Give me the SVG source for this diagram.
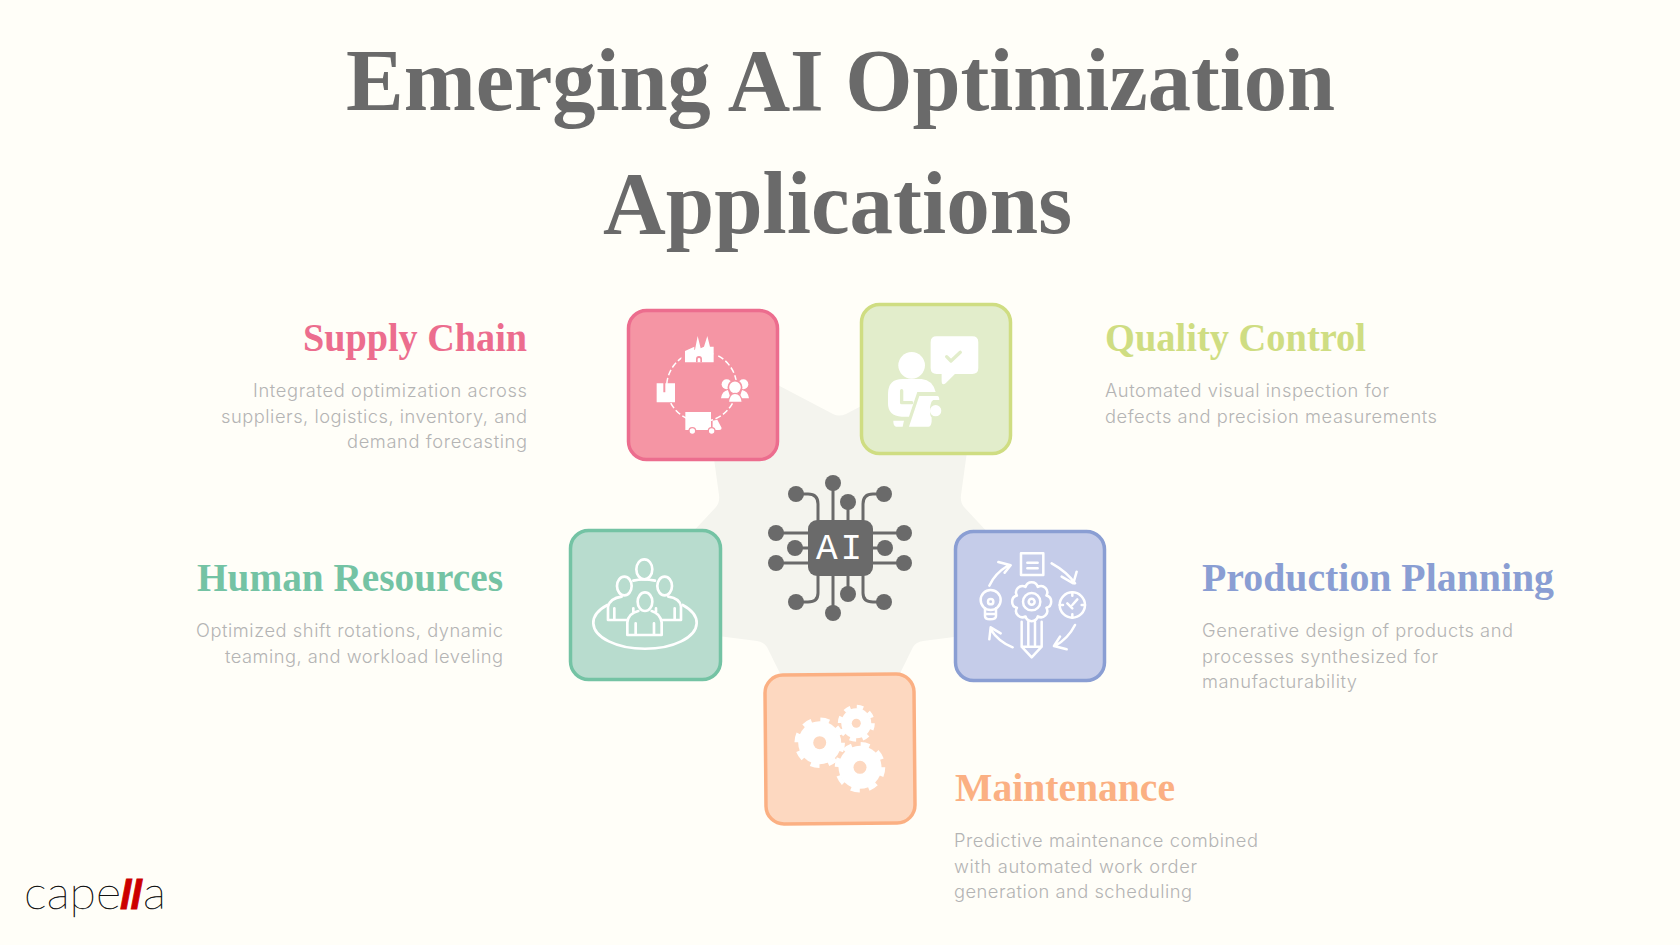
<svg xmlns="http://www.w3.org/2000/svg" width="1680" height="945" viewBox="0 0 1680 945">
<style>
.title{font-family:"Liberation Serif",serif;font-weight:700;font-size:88px;fill:#6a6a6a}
.h{font-family:"Liberation Serif",serif;font-weight:700;font-size:40px}
.b{font-family:Inter,"Liberation Sans",sans-serif;font-size:18.3px;font-weight:300;fill:#b4b4b4}
.e{text-anchor:end}
.box{stroke-width:3.5}
.ln{fill:none;stroke:#fff;stroke-linecap:round;stroke-linejoin:round}
.w{fill:#fff}
.tr{fill:none;stroke:#6a6a6a;stroke-width:3}
.d{fill:#6a6a6a}
.logo{font-family:Lato,sans-serif;font-weight:100;font-size:46px;fill:#111;stroke:#111;stroke-width:.45}
</style>
<rect width="1680" height="945" fill="#fffef8"/>
<g id="title">
<text class="title" x="346" y="110" textLength="989" lengthAdjust="spacingAndGlyphs">Emerging AI Optimization</text>
<text class="title" x="603" y="233" textLength="469" lengthAdjust="spacingAndGlyphs">Applications</text>
</g>
<path id="star" fill="#f4f4ee" d="M698 343L833 414Q839 417 846 414L982 343L961 495Q960 502 964 507L1071 622L923 641Q916 642 913 647L840 795L767 647Q764 642 757 641L609 622L716 507Q720 502 719 495Z"/>

<g id="ai-core">
<path class="tr" d="M833 483V520M848 502V520M796 494H808Q818 494 818 504V520M884 494H873Q863 494 863 504V520M776 533H808M795 548H808M776 563H808M904 533H873M885 548H873M904 563H873M818 576V593Q818 602 808 602H796M833 576V613M848 576V594M863 576V593Q863 602 873 602H884"/>
<rect class="d" x="808" y="520" width="65" height="56" rx="9"/>
<g class="d"><circle cx="833" cy="483" r="8"/><circle cx="796" cy="494" r="8"/><circle cx="848" cy="502" r="8"/><circle cx="884" cy="494" r="8"/><circle cx="776" cy="533" r="8"/><circle cx="795" cy="548" r="8"/><circle cx="776" cy="563" r="8"/><circle cx="904" cy="533" r="8"/><circle cx="885" cy="548" r="8"/><circle cx="904" cy="563" r="8"/><circle cx="796" cy="602" r="8"/><circle cx="833" cy="613" r="8"/><circle cx="848" cy="594" r="8"/><circle cx="884" cy="602" r="8"/></g>
<text x="816" y="559" font-family="'Liberation Mono',monospace" font-size="36" fill="#fff" textLength="46" lengthAdjust="spacing">AI</text>
</g>

<g id="supply-chain">
<rect class="box" x="628.500" y="310.500" width="149" height="149" rx="18" fill="#f595a4" stroke="#ec6d8e"/>
<g transform="translate(600 290) scale(.3333)">
<circle cx="305" cy="290" r="105" fill="none" stroke="#fff" stroke-width="4.500" stroke-dasharray="18 8"/>
<path class="ln" style="stroke:#f595a4;stroke-width:12" d="M250 222V180M346 222V180"/>
<path class="w" d="M255 217V183L283 170V180L285 179L293 138L302 175L312 170L322 138L330 170L341 170V217Z"/>
<path fill="#f595a4" d="M288 217V207A9 9 0 0 1 306 207V217H301V208A4 4 0 0 0 293 208V217Z"/>
<path class="w" d="M170 280H190V307H196V280H225V337H170Z"/>
<g class="w"><circle cx="380" cy="283" r="15"/><circle cx="430" cy="283" r="15"/><path d="M363 325Q366 303 384 300L392 325ZM447 325Q444 303 426 300L418 325Z"/><circle cx="405" cy="292" r="20" stroke="#f595a4" stroke-width="5"/><path stroke="#f595a4" stroke-width="4" d="M385 337Q388 310 405 310Q424 310 427 337Z"/></g>
<path class="w" d="M256 366H333V420H256Z"/>
<path class="w" d="M338 392L352 389L365 414Q365 420 358 420H338Z"/>
<circle class="w" cx="277" cy="423" r="10" stroke="#f595a4" stroke-width="4"/><circle class="w" cx="335" cy="423" r="10" stroke="#f595a4" stroke-width="4"/>
</g>
</g>

<g id="quality-control">
<rect class="box" x="861.500" y="304.500" width="149" height="149" rx="18" fill="#e2edcb" stroke="#cfdd82"/>
<g transform="translate(600 290) scale(.3333)">
<circle class="w" cx="935" cy="226" r="40"/>
<path class="w" d="M1010 139H1117Q1135 139 1135 157V234Q1135 252 1117 252H1065L1037 280Q1025 288 1025 272V252H1010Q992 252 992 234V157Q992 139 1010 139Z"/>
<path fill="none" stroke="#e2edcb" stroke-width="10" stroke-linecap="round" stroke-linejoin="round" d="M1040 200L1053 213L1081 187"/>
<path class="w" d="M908 267H965Q998 270 1007 306H952L927 380H905Q864 378 864 340V312Q864 267 908 267Z"/>
<path fill="none" stroke="#e2edcb" stroke-width="10" stroke-linecap="round" stroke-linejoin="round" d="M905 302V338H935"/>
<path class="w" d="M958 318H1012Q1018 318 1018 330H1000Q990 335 990 362Q990 378 995 382V395Q993 410 985 410H927Z"/>
<circle class="w" cx="1007" cy="362" r="17"/>
<path class="w" d="M880 392H912L908 410H888Q880 408 880 392Z"/>
</g>
</g>

<g id="human-resources">
<rect class="box" x="570.500" y="530.500" width="150" height="149" rx="18" fill="#b8dcce" stroke="#74c3a4"/>
<g class="ln" transform="translate(580 545) scale(.3333)" style="stroke-width:8">
<path d="M82 180A155 78 0 1 0 308 180"/>
<ellipse cx="193" cy="73" rx="24" ry="30"/><ellipse cx="133" cy="123" rx="22" ry="28"/><ellipse cx="254" cy="123" rx="22" ry="28"/><ellipse cx="195" cy="170" rx="22" ry="28"/>
<path d="M160 107Q190 100 225 107M125 155Q90 160 84 185V225H142M265 155Q300 160 303 185V225H245M103 190V225M284 190V225M142 270V232Q145 205 175 198M245 270V232Q240 205 215 198M142 270H245M167 235V270M222 235V270M160 190V200M228 190V200"/>
</g>
</g>

<g id="production-planning">
<rect class="box" x="955.500" y="531.500" width="149" height="149" rx="18" fill="#c5cce9" stroke="#8a9ed3"/>
<g class="ln" transform="translate(970 540) scale(.3333)" style="stroke-width:7.500">
<rect x="153" y="40" width="67" height="65"/><path d="M172 68H203M172 85H203"/>
<path d="M58 137Q75 100 112 78M85 66L122 76L104 98M245 70Q290 95 315 130M320 95L310 130L275 110M315 255Q295 295 255 318M290 328L252 318L270 290M128 322Q85 305 62 268M58 298L62 262L92 280"/>
<circle cx="62" cy="180" r="30"/><circle cx="62" cy="185" r="8"/><path d="M45 205V228Q45 238 60 238Q78 238 78 228V205M45 222H78"/>
<circle cx="307" cy="195" r="38"/><path d="M307 195L322 178M292 190L307 205M307 157V167M307 223V233M269 195H279M335 195H345"/>
<path d="M229.300 203.400A19 19 0 0 1 203.400 229.300A19 19 0 0 1 166.600 229.300A19 19 0 0 1 140.700 203.400A19 19 0 0 1 140.700 166.600A19 19 0 0 1 166.600 140.700A19 19 0 0 1 203.400 140.700A19 19 0 0 1 229.300 166.600A19 19 0 0 1 229.300 203.400Z"/>
<circle cx="185" cy="185" r="26"/><circle cx="185" cy="185" r="9"/>
<path d="M155 245V320L185 352L215 320V245M175 245V315M195 245V315M155 320H215"/>
</g>
</g>

<g id="maintenance">
<rect class="box" x="765.500" y="674.500" width="149" height="149" rx="18" fill="#fdd8c0" stroke="#fbb083" transform="rotate(-.5 840 749)"/>
<g fill="#fff">
<circle cx="819.700" cy="742.700" r="21.500"/><circle cx="819.700" cy="742.700" r="23" fill="none" stroke="#fff" stroke-width="4.500" stroke-dasharray="9 9.060"/>
<circle cx="856.300" cy="723.300" r="15"/><circle cx="856.300" cy="723.300" r="16.500" fill="none" stroke="#fff" stroke-width="4" stroke-dasharray="6.500 6.460"/>
<circle cx="860" cy="767.300" r="21.500"/><circle cx="860" cy="767.300" r="23" fill="none" stroke="#fff" stroke-width="4.500" stroke-dasharray="9 9.060"/>
</g>
<g fill="#fdd8c0"><circle cx="819.700" cy="742.700" r="6.500"/><circle cx="856.300" cy="723.300" r="4.500"/><circle cx="860" cy="767.300" r="6.500"/></g>
</g>

<g id="label-supply-chain">
<text class="h e" x="527" y="351" fill="#ec6d8e" textLength="224" lengthAdjust="spacingAndGlyphs">Supply Chain</text>
<text class="b e" x="527" y="397" textLength="274">Integrated optimization across</text>
<text class="b e" x="527" y="423" textLength="306">suppliers, logistics, inventory, and</text>
<text class="b e" x="527" y="448" textLength="180">demand forecasting</text>
</g>
<g id="label-human-resources">
<text class="h e" x="503" y="591" fill="#74c3a4" textLength="306" lengthAdjust="spacingAndGlyphs">Human Resources</text>
<text class="b e" x="503" y="637" textLength="307">Optimized shift rotations, dynamic</text>
<text class="b e" x="503" y="663" textLength="278">teaming, and workload leveling</text>
</g>
<g id="label-quality-control">
<text class="h" x="1105" y="351" fill="#cfdd82" textLength="261" lengthAdjust="spacingAndGlyphs">Quality Control</text>
<text class="b" x="1105" y="397" textLength="284">Automated visual inspection for</text>
<text class="b" x="1105" y="423" textLength="332">defects and precision measurements</text>
</g>
<g id="label-production-planning">
<text class="h" x="1202" y="591" fill="#8a9ed3" textLength="352" lengthAdjust="spacingAndGlyphs">Production Planning</text>
<text class="b" x="1202" y="637" textLength="311">Generative design of products and</text>
<text class="b" x="1202" y="663" textLength="236">processes synthesized for</text>
<text class="b" x="1202" y="688" textLength="155">manufacturability</text>
</g>
<g id="label-maintenance">
<text class="h" x="955" y="801" fill="#fbb083" textLength="220" lengthAdjust="spacingAndGlyphs">Maintenance</text>
<text class="b" x="954" y="847" textLength="304">Predictive maintenance combined</text>
<text class="b" x="954" y="873" textLength="243">with automated work order</text>
<text class="b" x="954" y="898" textLength="238">generation and scheduling</text>
</g>
<g id="logo">
<text class="logo" x="24" y="909" textLength="97" lengthAdjust="spacingAndGlyphs">cape</text>
<text x="120" y="909" font-family="'Liberation Sans',sans-serif" font-weight="700" font-style="italic" font-size="41" fill="#cc0000" stroke="#cc0000" stroke-width=".8" textLength="22" lengthAdjust="spacing">ll</text>
<text class="logo" x="143" y="909" textLength="23" lengthAdjust="spacingAndGlyphs">a</text>
</g>
</svg>
